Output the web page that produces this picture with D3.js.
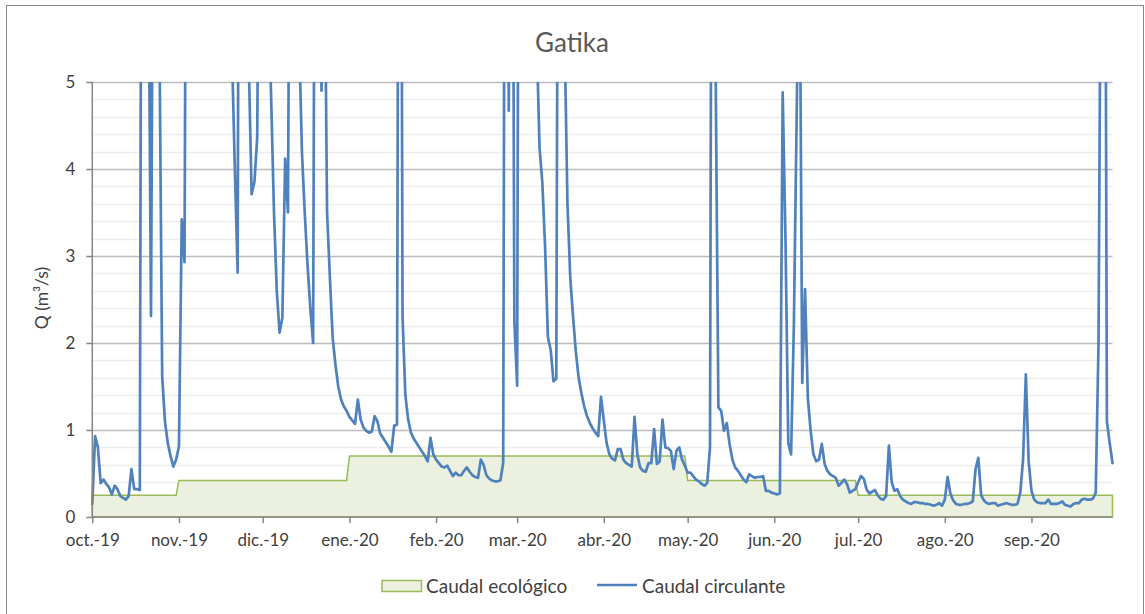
<!DOCTYPE html>
<html>
<head>
<meta charset="utf-8">
<script src="https://cdnjs.cloudflare.com/ajax/libs/d3/7.8.5/d3.min.js"></script>
<style>
  body { margin: 0; background: #fff; }
  svg { display: block; }
  text { font-family: Lato, "Open Sans", sans-serif; }
</style>
</head>
<body>
<svg id="chart" width="1145" height="614"></svg>
<script>
// Caudal diario en Gatika, oct.-19 a sep.-20 (m3/s)
var titulo = "Gatika";
var ejeY = "Q (m\u00B3/s)";
var meses = ["oct.-19", "nov.-19", "dic.-19", "ene.-20", "feb.-20", "mar.-20",
             "abr.-20", "may.-20", "jun.-20", "jul.-20", "ago.-20", "sep.-20"];
var yTicks = [0, 1, 2, 3, 4, 5];

// caudal ecológico, un valor por mes
var caudalEcologico = [0.25, 0.42, 0.42, 0.70, 0.70, 0.70, 0.70, 0.42, 0.42, 0.25, 0.25, 0.25];

// caudal circulante, un valor por día (los picos > 5 salen del gráfico)
var circOct = [0.15, 0.93, 0.80, 0.39, 0.43, 0.38, 0.34, 0.26, 0.36, 0.32,
               0.24, 0.22, 0.20, 0.24, 0.55, 0.32, 0.32, 0.31, 14, 11,
               7, 2.31, 9, 11, 5.6, 1.62, 1.1, 0.85, 0.70, 0.58, 0.66];
var circNov = [0.81, 3.42, 2.93, 12, 16, 20, 15, 12, 10, 14,
               18, 13, 11, 9, 12, 10, 8, 7, 6.5, 5.3,
               4.0, 2.81, 15, 12, 8, 5.2, 3.71, 3.85, 4.36, 9];
var circDic = [11, 8, 6, 4.8, 3.5, 2.6, 2.12, 2.29, 4.12, 3.5,
               10, 9, 7, 5.5, 4.2, 3.5, 2.9, 2.4, 2.0, 12,
               9, 4.9, 7, 3.5, 2.75, 2.06, 1.75, 1.5, 1.35, 1.27, 1.22];
var circEne = [1.15, 1.11, 1.07, 1.35, 1.12, 1.03, 0.99, 0.97, 0.98, 1.16,
               1.10, 0.96, 0.91, 0.86, 0.81, 0.75, 1.05, 1.06, 14, 2.3,
               1.4, 1.12, 0.97, 0.90, 0.85, 0.80, 0.75, 0.70, 0.64, 0.91, 0.72];
var circFeb = [0.66, 0.62, 0.58, 0.57, 0.59, 0.53, 0.47, 0.51, 0.48, 0.48,
               0.53, 0.57, 0.52, 0.48, 0.46, 0.45, 0.66, 0.60, 0.48, 0.44,
               0.42, 0.41, 0.41, 0.42, 0.62, 14, 4.67, 12, 2.25];
var circMar = [1.51, 14, 12, 10, 9, 8, 7, 5.5, 4.25, 3.85,
               3.1, 2.07, 1.92, 1.56, 1.59, 12, 14, 5.5, 3.6, 2.75,
               2.3, 1.9, 1.6, 1.42, 1.27, 1.16, 1.08, 1.02, 0.97, 0.93, 1.38];
var circAbr = [1.11, 0.85, 0.72, 0.67, 0.65, 0.78, 0.78, 0.66, 0.62, 0.60,
               0.58, 1.15, 0.72, 0.57, 0.53, 0.52, 0.62, 0.62, 1.01, 0.61,
               0.64, 1.12, 0.80, 0.79, 0.76, 0.55, 0.76, 0.80, 0.66, 0.59];
var circMay = [0.51, 0.51, 0.47, 0.43, 0.41, 0.38, 0.36, 0.39, 0.80, 14,
               5.2, 1.26, 1.22, 0.99, 1.08, 0.84, 0.66, 0.57, 0.53, 0.48,
               0.43, 0.40, 0.49, 0.47, 0.45, 0.46, 0.46, 0.47, 0.30, 0.30, 0.28];
var circJun = [0.27, 0.26, 0.27, 4.88, 3.2, 0.85, 0.72, 2.2, 4.6, 7,
               1.54, 2.62, 1.37, 0.99, 0.72, 0.64, 0.66, 0.84, 0.61, 0.53,
               0.49, 0.47, 0.45, 0.36, 0.39, 0.43, 0.38, 0.28, 0.30, 0.32];
var circJul = [0.40, 0.47, 0.44, 0.32, 0.27, 0.29, 0.31, 0.25, 0.21, 0.20,
               0.24, 0.82, 0.40, 0.30, 0.32, 0.24, 0.20, 0.18, 0.16, 0.15,
               0.17, 0.17, 0.16, 0.16, 0.15, 0.15, 0.14, 0.13, 0.14, 0.16, 0.13];
var circAgo = [0.20, 0.46, 0.27, 0.19, 0.15, 0.14, 0.14, 0.15, 0.15, 0.16,
               0.18, 0.55, 0.68, 0.25, 0.19, 0.16, 0.15, 0.16, 0.16, 0.13,
               0.14, 0.15, 0.16, 0.15, 0.14, 0.14, 0.15, 0.28, 0.66, 1.64, 0.64];
var circSep = [0.30, 0.20, 0.17, 0.16, 0.16, 0.16, 0.20, 0.15, 0.15, 0.15,
               0.16, 0.18, 0.14, 0.13, 0.12, 0.15, 0.16, 0.16, 0.20, 0.21,
               0.20, 0.20, 0.21, 0.28, 2.0, 8, 12, 1.1, 0.85, 0.62];

var circulantePorMes = [circOct, circNov, circDic, circEne, circFeb, circMar,
                        circAbr, circMay, circJun, circJul, circAgo, circSep];

// Build the daily table from the month arrays.
var datos = [];
circulantePorMes.forEach(function(mes, m) {
  mes.forEach(function(valor, dia) {
    datos.push({
      fecha: new Date(Date.UTC(2019, 9 + m, dia + 1)),
      circulante: valor,
      ecologico: caudalEcologico[m]
    });
  });
});
var inicioMeses = meses.map(function(d, m) { return new Date(Date.UTC(2019, 9 + m, 1)); });

var svg = d3.select("#chart");
// plot area edges (note: "top" is taken by window.top)
var plotLeft = 92.3, plotRight = 1112.5, plotTop = 82, plotBottom = 517;

var x = d3.scaleUtc()
  .domain([datos[0].fecha, datos[datos.length - 1].fecha])
  .range([plotLeft, plotRight]);
var y = d3.scaleLinear().domain([0, 5]).range([plotBottom, plotTop]);

// chart border
svg.append("rect")
  .attr("x", 6.5).attr("y", 5.5).attr("width", 1137).attr("height", 640)
  .attr("fill", "#fff").attr("stroke", "#898989").attr("stroke-width", 1);

// minor and major gridlines
var menores = d3.range(0, 5.01, 0.2).filter(function(v) { return Math.abs(v - Math.round(v)) > 0.01; });
svg.append("g").selectAll("line").data(menores).enter().append("line")
  .attr("x1", plotLeft).attr("x2", plotRight)
  .attr("y1", function(d) { return Math.round(y(d)) + 0.5; })
  .attr("y2", function(d) { return Math.round(y(d)) + 0.5; })
  .attr("stroke", "#EDEDED").attr("stroke-width", 1.3);
svg.append("g").selectAll("line").data(yTicks.slice(1)).enter().append("line")
  .attr("x1", plotLeft).attr("x2", plotRight)
  .attr("y1", function(d) { return Math.round(y(d)) + 0.5; })
  .attr("y2", function(d) { return Math.round(y(d)) + 0.5; })
  .attr("stroke", "#BDBDBD").attr("stroke-width", 1.3);

// clip for the plot area
svg.append("clipPath").attr("id", "plot")
  .append("rect").attr("x", plotLeft - 2).attr("y", plotTop)
  .attr("width", plotRight - plotLeft + 4).attr("height", plotBottom - plotTop);

// Caudal ecológico (area)
var area = d3.area()
  .x(function(d) { return x(d.fecha); })
  .y0(y(0))
  .y1(function(d) { return y(d.ecologico); });
svg.append("path").datum(datos)
  .attr("d", area)
  .attr("fill", "#EBF1DE").attr("stroke", "#9BBB59").attr("stroke-width", 1.5);

// Caudal circulante (line)
var linea = d3.line()
  .x(function(d) { return x(d.fecha); })
  .y(function(d) { return y(d.circulante); });
svg.append("path").datum(datos)
  .attr("clip-path", "url(#plot)")
  .attr("d", linea)
  .attr("fill", "none").attr("stroke", "#4F81BD").attr("stroke-width", 2.7)
  .attr("stroke-linejoin", "round").attr("stroke-linecap", "round");

// axes
var ejeIzq = svg.append("g").attr("transform", "translate(" + plotLeft + ",0)")
  .call(d3.axisLeft(y).tickValues(yTicks).tickSize(6).tickPadding(11).tickFormat(d3.format("d")));
var ejeAbajo = svg.append("g").attr("transform", "translate(0," + plotBottom + ")")
  .call(d3.axisBottom(x).tickValues(inicioMeses).tickSize(6).tickPadding(11)
    .tickFormat(function(d, i) { return meses[i]; }));
[ejeIzq, ejeAbajo].forEach(function(g) {
  g.select(".domain").attr("stroke", "#868686").attr("stroke-width", 1.5);
  g.selectAll(".tick line").attr("stroke", "#868686").attr("stroke-width", 1.5);
  g.selectAll(".tick text").attr("fill", "#404040").style("font-size", "17px")
    .style("font-family", "Lato, 'Open Sans', sans-serif");
});
ejeIzq.select(".domain").attr("d", "M0," + plotTop + "V" + plotBottom);
ejeAbajo.select(".domain").attr("d", "M" + plotLeft + ",0H" + plotRight);

// title and axis title
svg.append("text").attr("x", 572).attr("y", 52).attr("text-anchor", "middle")
  .attr("fill", "#595959").style("font-size", "26px").text(titulo);
svg.append("text").attr("transform", "translate(48,298) rotate(-90)")
  .attr("text-anchor", "middle").attr("fill", "#404040").style("font-size", "17.5px")
  .text(ejeY);

// legend
var leyenda = svg.append("g");
leyenda.append("rect").attr("x", 382).attr("y", 580.5).attr("width", 39.5).attr("height", 11)
  .attr("fill", "#EBF1DE").attr("stroke", "#9BBB59").attr("stroke-width", 1.5);
leyenda.append("text").attr("x", 426).attr("y", 592.5).attr("fill", "#404040")
  .style("font-size", "19px").text("Caudal ecológico");
leyenda.append("line").attr("x1", 597).attr("x2", 637).attr("y1", 585).attr("y2", 585)
  .attr("stroke", "#4F81BD").attr("stroke-width", 2.7);
leyenda.append("text").attr("x", 642).attr("y", 592.5).attr("fill", "#404040")
  .style("font-size", "19px").text("Caudal circulante");
</script>
</body>
</html>
